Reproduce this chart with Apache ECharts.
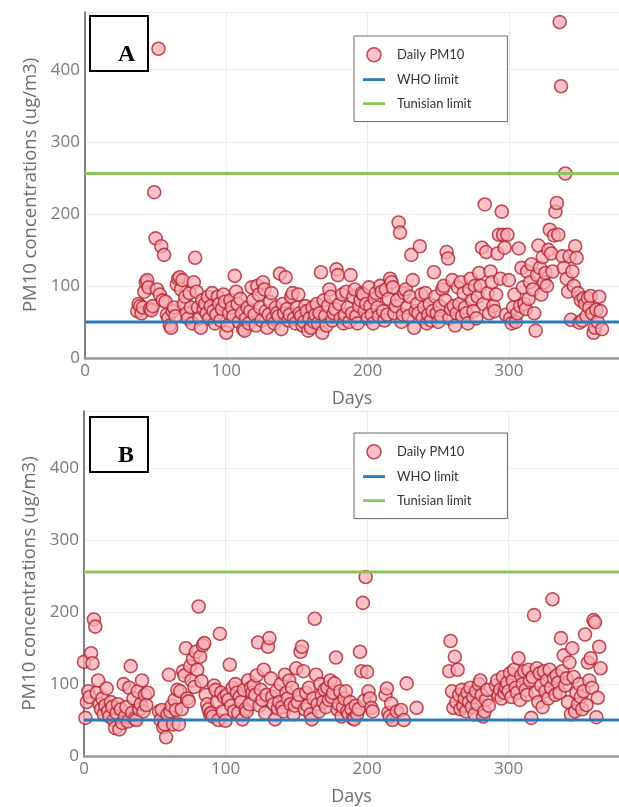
<!DOCTYPE html>
<html><head><meta charset="utf-8">
<script src="https://cdn.jsdelivr.net/npm/echarts@6/dist/echarts.min.js"></script>
<style>html,body{margin:0;padding:0;background:#fff}#c{width:619px;height:807px}</style>
</head><body><div id="c"></div>
<script>
// Panel A: daily PM10, first value is day 37
const firstDayA = 37;
const pm10A = [
  65, 75, 72, 62, 70, 92, 105, 108, 98, 68,
  66, 72, 230, 166, 95, 429, 88, 155, 80, 143,
  78, 60, 55, 45, 42, 65, 70, 58, 102, 110,
  112, 95, 108, 75, 85, 62, 55, 90, 70, 48,
  105, 139, 92, 70, 55, 42, 80, 68, 75, 62,
  85, 55, 72, 90, 65, 48, 60, 85, 75, 52,
  68, 88, 78, 35, 45, 62, 80, 70, 58, 114,
  92, 75, 50, 82, 62, 40, 38, 55, 70, 48,
  65, 98, 80, 60, 45, 100, 88, 70, 52, 105,
  95, 65, 42, 60, 78, 90, 55, 48, 70, 62,
  58, 117, 40, 75, 62, 112, 68, 52, 60, 85,
  90, 55, 48, 70, 88, 62, 58, 45, 50, 72,
  65, 38, 55, 42, 70, 50, 60, 75, 48, 62,
  119, 35, 80, 58, 45, 72, 95, 85, 52, 62,
  68, 123, 115, 75, 55, 88, 48, 60, 92, 70,
  50, 115, 62, 85, 95, 58, 48, 72, 80, 90,
  88, 65, 75, 55, 98, 72, 60, 48, 82, 90,
  70, 58, 100, 92, 65, 52, 95, 60, 82, 110,
  105, 98, 62, 72, 80, 188, 174, 50, 60, 90,
  95, 70, 58, 85, 143, 108, 42, 65, 75, 62,
  155, 88, 55, 70, 90, 48, 60, 75, 52, 65,
  119, 85, 62, 50, 72, 58, 95, 100, 80, 147,
  138, 55, 68, 108, 72, 45, 62, 98, 75, 105,
  58, 90, 70, 62, 48, 95, 110, 80, 65, 100,
  55, 85, 118, 100, 153, 75, 213, 147, 90, 62,
  120, 105, 72, 65, 88, 145, 171, 110, 203, 171,
  153, 60, 171, 108, 55, 48, 70, 88, 50, 62,
  152, 72, 125, 98, 75, 68, 120, 82, 105, 130,
  95, 62, 38, 115, 156, 125, 88, 140, 105, 118,
  100, 150, 178, 145, 120, 170, 203, 215, 171, 466,
  377, 141, 125, 256, 110, 92, 141, 53, 120, 100,
  155, 139, 90, 49, 80, 52, 83, 75, 58, 83,
  70, 86, 62, 35, 42, 67, 50, 85, 65, 40
];
// Panel B: daily PM10, first value is day 0 (null = no measurement)
const firstDayB = 0;
const pm10B = [
  131, 53, 75, 90, 82, 143, 129, 190, 180, 88,
  105, 72, 65, 80, 58, 70, 94, 62, 55, 75,
  68, 50, 39, 60, 72, 37, 65, 46, 100, 55,
  68, 48, 95, 125, 60, 80, 52, 50, 90, 65,
  72, 105, 62, 85, 71, 88, null, null, null, null,
  null, null, null, 62, 50, 64, 40, 44, 26, 58,
  113, 62, 70, 44, 78, 64, 92, 44, 90, 65,
  118, 112, 150, 80, 76, 125, 105, 135, 96, 145,
  120, 208, 138, 104, 154, 157, 85, 72, 65, 58,
  60, 55, 98, 92, 75, 50, 170, 88, 62, 82,
  49, 85, 78, 127, 70, 95, 62, 100, 88, 60,
  82, 75, 51, 92, 65, 62, 105, 72, 95, 88,
  98, 85, 112, 158, 70, 92, 78, 120, 60, 85,
  152, 164, 108, 82, 72, 51, 90, 66, 75, 100,
  68, 62, 113, 88, 80, 105, 72, 95, 58, 70,
  122, 75, 85, 145, 152, 118, 65, 88, 70, 95,
  58, 51, 80, 191, 113, 72, 62, 100, 85, 75,
  92, 68, 95, 78, 105, 82, 88, 101, 137, 65,
  72, 90, 55, 68, 80, 90, 62, 58, 75, 65,
  52, 51, 70, 58, 65, 145, 118, 213, 77, 249,
  117, 90, 80, 67, 62, null, null, null, null, null,
  null, null, null, 85, 94, 60, 55, 73, 50, null,
  null, 62, null, null, 64, null, 50, null, 101, null,
  null, null, null, null, null, 67, null, null, null, null,
  null, null, null, null, null, null, null, null, null, null,
  null, null, null, null, null, null, null, null, 118, 160,
  90, 67, 138, 75, 120, 85, 65, 92, 70, 80,
  62, 88, 75, 95, 68, 82, 58, 90, 72, 100,
  105, 85, 55, 62, 78, 92, 70, null, null, null,
  null, 98, 105, 85, 92, 80, 110, 88, 95, 102,
  90, 115, 82, 105, 120, 95, 88, 136, 78, 112,
  100, 118, 92, 85, 120, 105, 53, 110, 196, 88,
  122, 75, 115, 98, 68, 118, 90, 105, 80, 120,
  95, 218, 108, 85, 112, 102, 88, 164, 118, 140,
  98, 108, 75, 130, 58, 150, 110, 62, 88, 72,
  100, 82, 65, 90, 169, 71, 130, 105, 136, 95,
  189, 186, 54, 81, 152, 122
];
const whoLimit = 50;
const tunisianLimit = 256;
const seriesNames = ['Daily PM10', 'WHO limit', 'Tunisian limit'];
const panelLabels = ['A', 'B'];
const dayRange = [0, 378];
const pmRange = [0, 480];

function toPairs(first, arr) {
  const out = [];
  arr.forEach((v, i) => { if (v !== null) out.push([first + i, v]); });
  return out;
}

const chart = echarts.init(document.getElementById('c'), null, {renderer: 'canvas'});
const gridTops = [12, 411];
const gridH = 346;
const markerFill = 'rgba(251,170,180,0.9)';
const markerStroke = '#b3242c';
const whoColor = '#2a7bbd';
const tunColor = '#8cc65a';
const lineIcon = 'path://M0,0M22,14M0,5.6H22V8.4H0Z';

function xAxisCfg(idx) {
  return {
    gridIndex: idx, type: 'value', min: dayRange[0], max: dayRange[1], interval: 100,
    axisLine: {show: true, onZero: false, lineStyle: {color: '#9a9a9a', width: 2.5}},
    axisTick: {show: false},
    splitLine: {show: true, lineStyle: {color: '#ebebeb', width: 1}},
    axisLabel: {color: '#7a7a7a', fontSize: 17, fontFamily: 'Open Sans', margin: 5, showMaxLabel: false},
    name: 'Days', nameLocation: 'middle', nameGap: 32,
    nameTextStyle: {color: '#6e6e6e', fontSize: 18, fontFamily: 'Open Sans'}
  };
}
function yAxisCfg(idx) {
  return {
    gridIndex: idx, type: 'value', min: pmRange[0], max: pmRange[1], interval: 100,
    axisLine: {show: true, lineStyle: {color: '#5a5a5a', width: 1.5}},
    axisTick: {show: false},
    splitLine: {show: true, lineStyle: {color: '#ebebeb', width: 1}},
    axisLabel: {color: '#7a7a7a', fontSize: 17, fontFamily: 'Open Sans', margin: 5, showMaxLabel: false},
    name: 'PM10 concentrations (ug/m3)', nameLocation: 'middle', nameGap: 44,
    nameTextStyle: {color: '#6e6e6e', fontSize: 18.5, fontFamily: 'Open Sans'}
  };
}
function scatterSeries(idx, data) {
  return {
    type: 'scatter', name: seriesNames[0], xAxisIndex: idx, yAxisIndex: idx,
    data: data, symbol: 'circle', symbolSize: 13, z: 2,
    itemStyle: {color: markerFill, borderColor: markerStroke, borderWidth: 1.6}
  };
}
function limitSeries(idx, name, value, color) {
  return {
    type: 'line', name: name, xAxisIndex: idx, yAxisIndex: idx,
    data: [[dayRange[0], value], [dayRange[1], value]],
    symbol: 'none', showSymbol: false, z: 3, silent: true,
    lineStyle: {color: color, width: 3}, itemStyle: {color: color}
  };
}
function legendCfg(top) {
  return {
    data: [
      {name: seriesNames[0], icon: 'circle', itemStyle: {color: markerFill, borderColor: markerStroke, borderWidth: 1.6}},
      {name: seriesNames[1], icon: lineIcon, itemStyle: {color: whoColor, borderWidth: 0}},
      {name: seriesNames[2], icon: lineIcon, itemStyle: {color: tunColor, borderWidth: 0}}
    ],
    orient: 'vertical', left: 354, top: top,
    itemWidth: 22, itemHeight: 14, itemGap: 10,
    padding: [11, 36, 11, 9],
    borderColor: '#6a6a6a', borderWidth: 1, backgroundColor: '#fff',
    selectedMode: false,
    textStyle: {color: '#333', fontSize: 13, fontFamily: 'Lato', padding: [0, 0, 0, 7]}
  };
}

const dataA = toPairs(firstDayA, pm10A);
const dataB = toPairs(firstDayB, pm10B);

function labelBox(top, text) {
  return [
    {type: 'rect', left: 89, top: top, shape: {width: 58, height: 55},
     style: {fill: '#fff', stroke: '#000', lineWidth: 2}, z: 100},
    {type: 'text', left: 118, top: top + 28, z: 101,
     style: {text: text, fill: '#000', font: 'bold 24px "Liberation Serif"', textAlign: 'center', textVerticalAlign: 'middle'}}
  ];
}

chart.setOption({
  backgroundColor: '#fff',
  animation: false,
  grid: [
    {left: 85, right: 0, top: gridTops[0], height: gridH, containLabel: false},
    {left: 84, right: 0, top: gridTops[1], height: gridH + 1, containLabel: false}
  ],
  xAxis: [xAxisCfg(0), xAxisCfg(1)],
  yAxis: [yAxisCfg(0), yAxisCfg(1)],
  legend: [legendCfg(36), legendCfg(433)],
  series: [
    scatterSeries(0, dataA),
    limitSeries(0, seriesNames[1], whoLimit, whoColor),
    limitSeries(0, seriesNames[2], tunisianLimit, tunColor),
    scatterSeries(1, dataB),
    limitSeries(1, seriesNames[1], whoLimit, whoColor),
    limitSeries(1, seriesNames[2], tunisianLimit, tunColor)
  ],
  graphic: [].concat(labelBox(15, panelLabels[0]), labelBox(416, panelLabels[1]))
});
</script>
</body></html>
